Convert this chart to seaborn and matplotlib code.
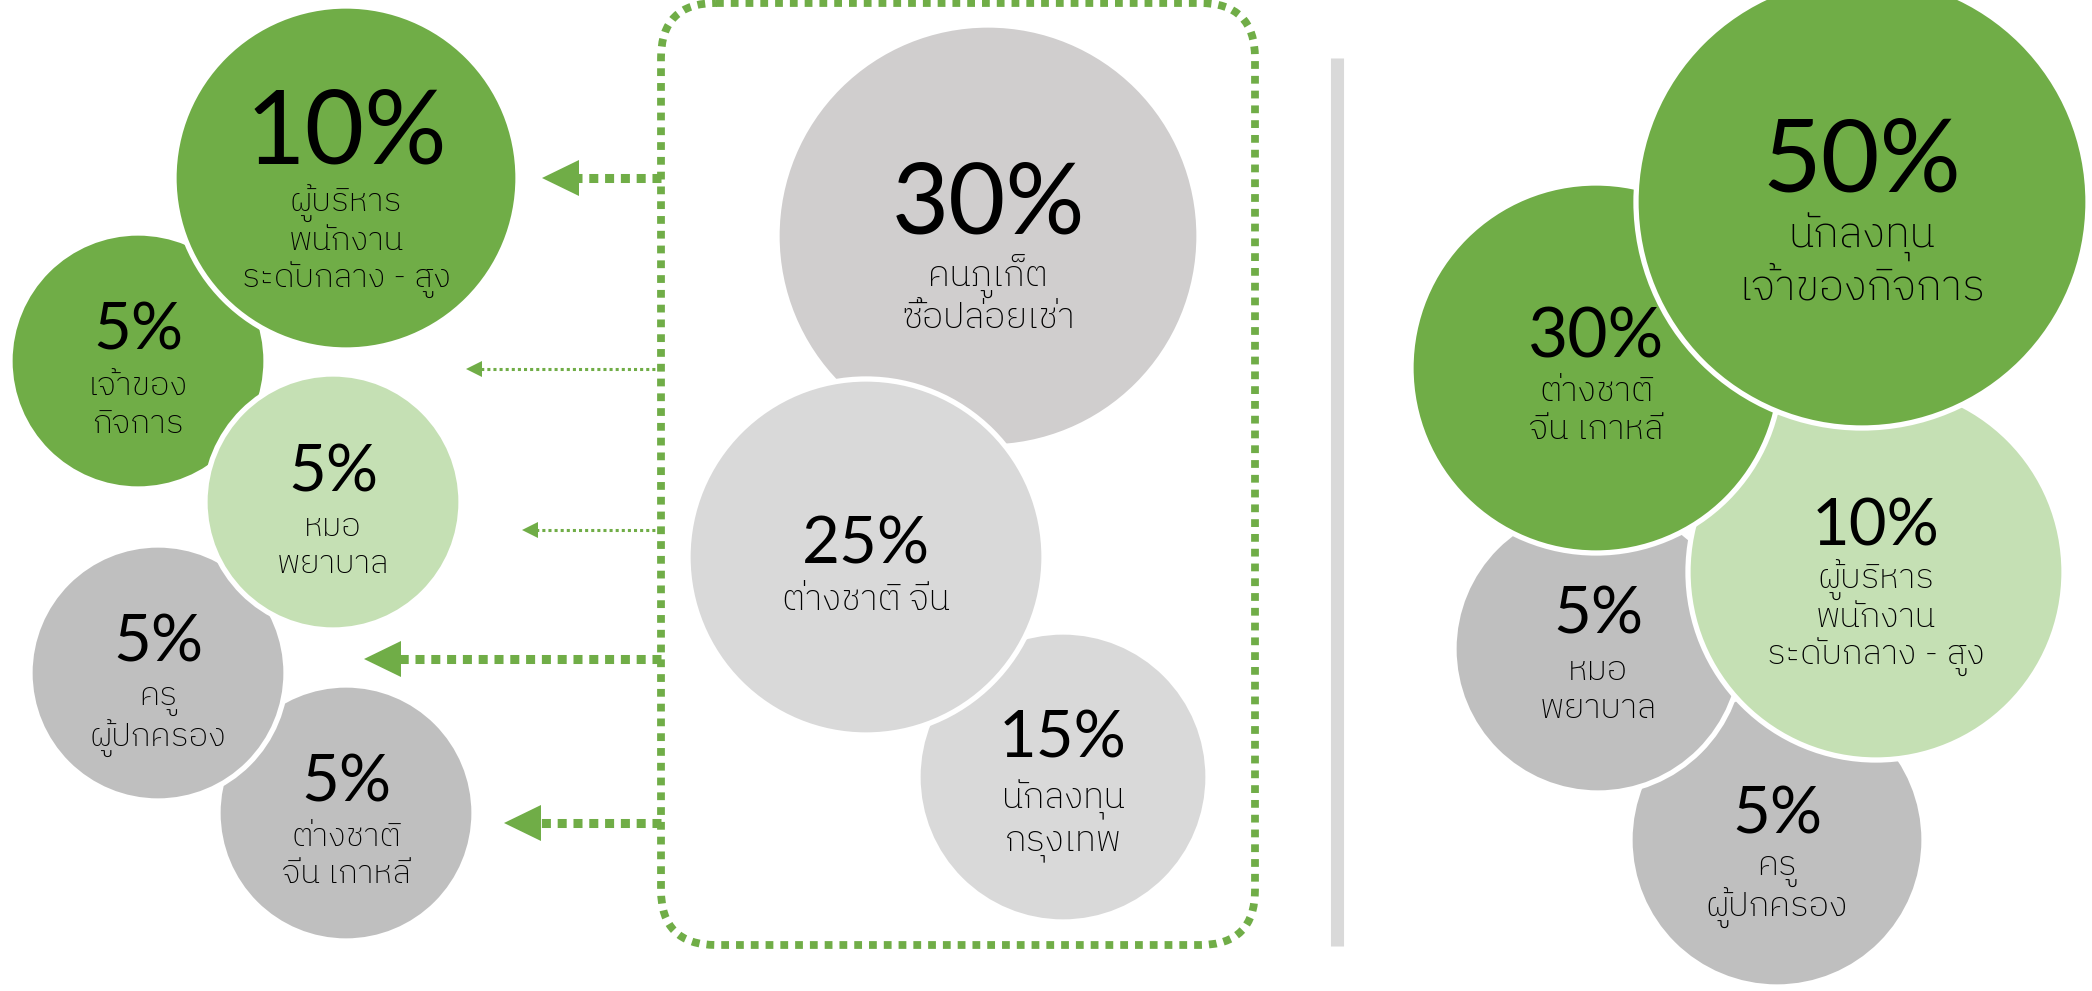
import numpy as np
import matplotlib
matplotlib.use("Agg")
import matplotlib.pyplot as plt
from matplotlib.patches import Circle, FancyBboxPatch, Polygon
from matplotlib import font_manager as fm
from matplotlib.ft2font import FT2Font
import seaborn as sns

# ---------------- data ----------------
left_pct = [10, 5, 5, 5, 5]
left_labels = [["ผู้บริหาร", "พนักงาน", "ระดับกลาง - สูง"],
               ["เจ้าของ", "กิจการ"],
               ["หมอ", "พยาบาล"],
               ["ครู", "ผู้ปกครอง"],
               ["ต่างชาติ", "จีน เกาหลี"]]
mid_pct = [30, 25, 15]
mid_labels = [["คนภูเก็ต", "ซื้อปล่อยเช่า"],
              ["ต่างชาติ จีน"],
              ["นักลงทุน", "กรุงเทพ"]]
right_pct = [50, 30, 10, 5, 5]
right_labels = [["นักลงทุน", "เจ้าของกิจการ"],
                ["ต่างชาติ", "จีน เกาหลี"],
                ["ผู้บริหาร", "พนักงาน", "ระดับกลาง - สูง"],
                ["หมอ", "พยาบาล"],
                ["ครู", "ผู้ปกครอง"]]

# ---------------- layout / style ----------------
DARK, LIGHT, GRAY = "#70AD47", "#C5E0B4", "#BFBFBF"
MIDA, MIDB = "#D0CECE", "#D9D9D9"

left_layout = dict(cx=[346, 138, 333, 158, 346], cy=[178, 361, 502, 673, 813],
                   r=[172, 128, 128, 128, 128], z=[5, 3, 4, 2, 1],
                   col=[DARK, DARK, LIGHT, GRAY, GRAY],
                   num_y=[163, 350, 491, 661, 801], lab_y=[212, 395, 536, 705, 846],
                   dy=[38, 38, 37, 42, 37], nsz=[74, 47, 47, 47, 47], lsz=[24, 24, 24, 24, 24])
mid_layout = dict(cx=[988, 866, 1063], cy=[236, 557, 777], r=[211, 178, 145], z=[1, 3, 2],
                  col=[MIDA, MIDB, MIDB], num_y=[233, 563, 758], lab_y=[287, 610, 808],
                  dy=[41, 41, 42], nsz=[71, 47, 47], lsz=[26, 26, 26])
right_layout = dict(cx=[1862, 1596, 1876, 1598, 1777], cy=[202, 368, 572, 649, 840],
                    r=[226, 185, 188, 144, 147], z=[5, 4, 3, 2, 1],
                    col=[DARK, DARK, LIGHT, GRAY, GRAY],
                    num_y=[192, 357, 545, 633, 833], lab_y=[248, 401, 589, 680, 875],
                    dy=[52, 38, 38, 38, 42], nsz=[73, 50, 47, 47, 47], lsz=[31, 25, 25, 25, 25])

arrow_y = [178, 369, 530, 659, 823]
arrow_tip = [542, 466, 522, 364, 504]
arrow_thick = [True, False, False, True, True]
BOX_X0, BOX_X1, BOX_Y0, BOX_Y1 = 661, 1255, 3, 945

sns.set_theme(style="white")


def find_thai_font():
    found = []
    for f in fm.fontManager.ttflist:
        if "CJK" in f.name:
            continue
        try:
            cmap = FT2Font(f.fname).get_charmap()
        except Exception:
            continue
        if 0x0E01 in cmap and 0x0E49 in cmap:
            found.append(f.name)
    if not found:
        return None
    pref = sorted(set(found), key=lambda n: (0 if "Thai" in n and "Looped" not in n else 1,
                                             0 if "Sans" in n else 1, n))
    return pref[0]


thai = find_thai_font()
LAB_FAM = [thai, "DejaVu Sans"] if thai else ["DejaVu Sans"]
NUM_FAM = ["Lato", "DejaVu Sans"]

fig = plt.figure(figsize=(20.92, 9.91), dpi=100)
ax = fig.add_axes([0, 0, 1, 1])
ax.set_xlim(0, 2092)
ax.set_ylim(991, 0)
ax.set_aspect("equal")
ax.axis("off")
sns.despine(ax=ax, left=True, bottom=True)


def draw_group(pcts, labels, L):
    for i, (p, lab) in enumerate(zip(pcts, labels)):
        z = 2 + L["z"][i]
        ax.add_patch(Circle((L["cx"][i], L["cy"][i]), L["r"][i], facecolor=L["col"][i],
                            edgecolor="white", linewidth=3.8, zorder=z))
        ax.text(L["cx"][i], L["num_y"][i], f"{p}%", ha="center", va="baseline",
                fontsize=L["nsz"][i], family=NUM_FAM, fontweight="normal",
                color="black", zorder=20)
        for j, line in enumerate(lab):
            ax.text(L["cx"][i], L["lab_y"][i] + j * L["dy"][i], line, ha="center",
                    va="baseline", fontsize=L["lsz"][i], family=LAB_FAM, fontweight="light",
                    color="black", zorder=20)


draw_group(left_pct, left_labels, left_layout)
draw_group(mid_pct, mid_labels, mid_layout)
draw_group(right_pct, right_labels, right_layout)

# dotted rounded box
box = FancyBboxPatch((BOX_X0, BOX_Y0), BOX_X1 - BOX_X0, BOX_Y1 - BOX_Y0,
                     boxstyle="round,pad=0,rounding_size=55", facecolor="none",
                     edgecolor=DARK, linewidth=5.6, linestyle=(0, (1.0, 0.9)), zorder=1)
ax.add_patch(box)

# arrows
for y, tip, thick in zip(arrow_y, arrow_tip, arrow_thick):
    hl, hw, lw, dash = (37, 18, 6.5, (1.0, 0.75)) if thick else (16, 8, 2.2, (1.0, 1.0))
    ax.plot([BOX_X0, tip + hl - 2], [y, y], color=DARK, linewidth=lw,
            linestyle=(0, dash), solid_capstyle="butt", dash_capstyle="butt", zorder=1)
    ax.add_patch(Polygon([[tip, y], [tip + hl, y - hw], [tip + hl, y + hw]], closed=True,
                         facecolor=DARK, edgecolor="none", zorder=1))

# separator
ax.plot([1337, 1337], [58, 946], color="#D9D9D9", linewidth=9.4, solid_capstyle="butt",
        zorder=1)

fig.savefig("out.png", dpi=100, facecolor="white")
